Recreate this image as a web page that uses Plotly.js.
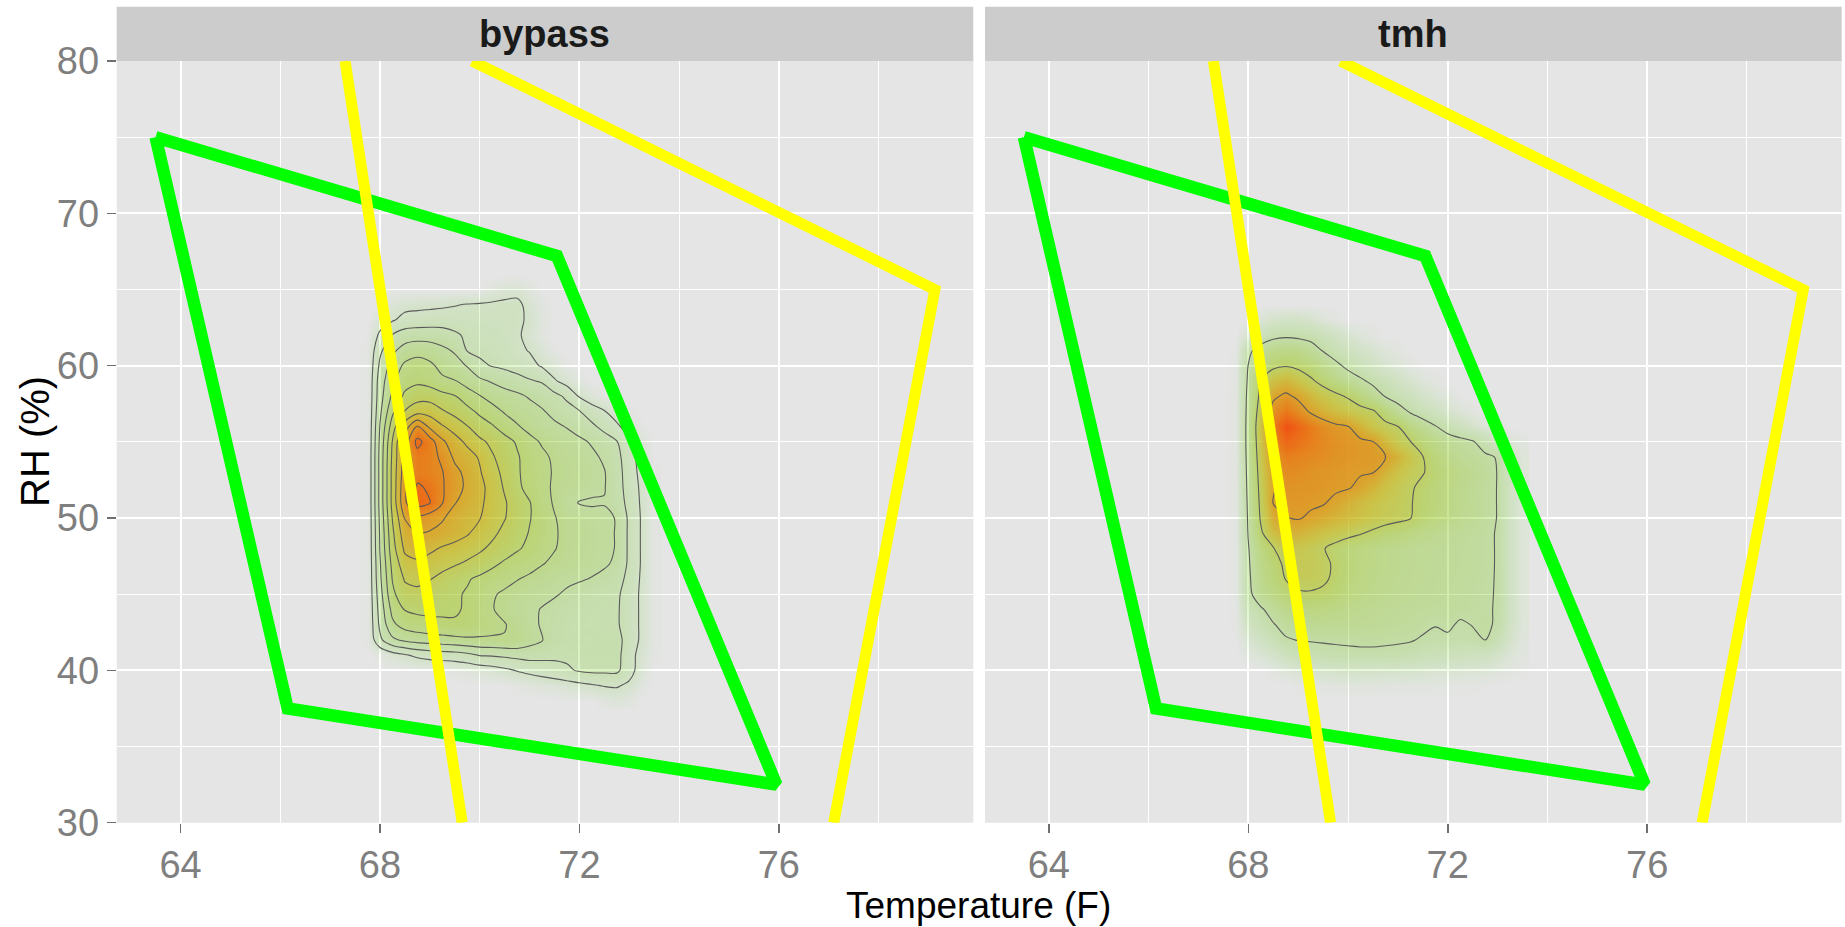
<!DOCTYPE html>
<html>
<head>
<meta charset="utf-8">
<script src="https://cdn.plot.ly/plotly-3.0.1.min.js"></script>
<style>html,body{margin:0;padding:0;background:#fff;}#chart{width:1845px;height:927px;}</style>
</head>
<body>
<div id="chart"></div>
<script>
// ---- data ----
const PANELS = ["bypass", "tmh"];
const X_TICKS = [64, 68, 72, 76];
const Y_TICKS = [30, 40, 50, 60, 70, 80];

// green comfort polygon (Temperature F, RH %)
const GREEN_T  = [63.5, 71.55, 75.95, 66.15, 63.5];
const GREEN_RH = [75.0, 67.2, 32.5, 37.5, 75.0];
// yellow boundary lines
const YELLOW1_T  = [67.3, 69.65];
const YELLOW1_RH = [80, 30];
const YELLOW2_T  = [69.85, 79.13, 77.1];
const YELLOW2_RH = [80, 65.0, 30];

// density grid
const GRID_T  = [67.5, 67.75, 68.0, 68.25, 68.5, 68.75, 69.0, 69.25, 69.5, 69.75, 70.0, 70.25, 70.5, 70.75, 71.0, 71.25, 71.5, 71.75, 72.0, 72.25, 72.5, 72.75, 73.0, 73.25, 73.5];
const GRID_RH = [38, 39, 40, 41, 42, 43, 44, 45, 46, 47, 48, 49, 50, 51, 52, 53, 54, 55, 56, 57, 58, 59, 60, 61, 62, 63, 64, 65, 66];

const DENS_BYPASS = [
[0,0,0,0,0,0,0,0,0,0,0,0,0,0,0,0,0,0,0,0,0.2,0.35,0.2,0,0],
[0,0,0,0,0,0,0,0,0,0,0,0,0,0.1,0.25,0.35,0.45,0.6,0.75,0.9,1.05,1.1,0.8,0.2,0],
[0,0,0,0,0,0,0.05,0.1,0.2,0.3,0.45,0.6,0.8,1.05,1.25,1.45,1.65,1.85,2.1,2.2,2.2,2.2,1.4,0.5,0],
[0,0,0.2,0.6,0.9,1.2,1.4,1.5,1.55,1.75,2.05,2.1,2.2,2.3,2.4,2.3,2.2,2.2,2.3,2.3,2.3,2.3,1.4,0.6,0.1],
[0,0.1,1.8,2.8,3.2,3.4,3.5,3.6,3.7,3.8,3.85,3.9,3.95,3.9,3.4,3.05,2.6,2.45,2.4,2.35,2.3,2.3,1.6,0.8,0.1],
[0,0.1,2.2,3.8,4.4,4.6,4.75,4.85,4.95,4.9,4.55,4.25,4.05,3.7,3.3,2.9,2.6,2.4,2.3,2.25,2.2,2.1,1.6,0.8,0.1],
[0,0.1,2.4,4.3,5.05,5.2,5.2,5.15,5.05,4.95,4.5,4.05,3.75,3.45,3.2,2.95,2.7,2.5,2.4,2.3,2.2,2.1,1.6,0.8,0.1],
[0,0.1,2.6,4.8,5.6,5.7,5.5,5.3,5.15,4.9,4.55,4.1,3.85,3.6,3.4,3.25,3.1,2.85,2.6,2.45,2.3,2.15,1.6,0.8,0.1],
[0,0.1,2.8,5.05,6.1,6.3,6.05,5.7,5.4,5.1,4.8,4.55,4.3,4.05,3.8,3.6,3.4,3.2,3.1,2.95,2.7,2.4,1.7,0.85,0.1],
[0,0.1,2.9,5.3,6.6,6.8,6.6,6.35,6.1,5.85,5.6,5.2,4.85,4.6,4.4,4.05,3.8,3.65,3.45,3.3,3.15,2.8,1.8,0.9,0.1],
[0,0.1,3.05,5.6,7.2,7.5,7.2,6.9,6.7,6.45,6.15,5.8,5.45,5.1,4.8,4.45,4.05,3.7,3.5,3.35,3.2,2.95,1.8,0.9,0.1],
[0,0.1,3.1,5.8,7.6,8.05,7.9,7.7,7.4,7.1,6.6,6.2,5.75,5.35,4.95,4.6,4.1,3.75,3.55,3.35,3.2,2.95,1.8,0.9,0.1],
[0,0.1,3.2,6.05,8.05,8.7,8.5,8.1,7.6,7.25,7.05,6.5,6.05,5.5,5.05,4.6,4.05,3.7,3.5,3.3,3.2,2.95,1.8,0.9,0.1],
[0,0.1,3.3,6.3,8.8,10.4,10.05,9.05,8.05,7.6,7.2,6.6,6.1,5.5,5.05,4.4,3.9,3.3,2.95,2.9,2.95,2.5,1.7,0.85,0.1],
[0,0.1,3.3,6.3,8.8,10.2,9.8,9.1,8.4,7.8,7.3,6.6,5.9,5.2,4.7,4.3,3.85,3.6,3.4,3.2,3.05,2.4,1.6,0.8,0.1],
[0,0.1,3.3,6.3,8.6,9.5,9.4,9.05,8.3,7.7,7.1,6.3,5.8,5.1,4.7,4.3,3.9,3.7,3.5,3.3,3.05,2.4,1.5,0.7,0.1],
[0,0.1,3.3,6.2,8.5,9.6,9.4,8.8,7.8,7.4,6.9,6.1,5.6,5.1,4.6,4.2,3.85,3.6,3.4,3.2,2.85,2.3,1.4,0.6,0],
[0,0.1,3.2,6.05,8.5,10.3,9.5,8.2,7.4,6.8,6.2,5.8,5.35,4.9,4.3,3.9,3.6,3.4,3.2,2.9,2.5,2.05,1.2,0.4,0],
[0,0.1,3.05,5.5,7.5,9.05,7.8,7.1,6.6,6.05,5.5,5.1,4.6,4.1,3.7,3.4,3.2,2.95,2.6,2.2,1.7,1.2,0.5,0.1,0],
[0,0.1,2.8,4.8,6.05,6.6,6.6,6.1,5.7,5.3,4.8,4.4,3.9,3.6,3.4,3.1,2.7,2.4,2.05,1.5,1.05,0.5,0.1,0,0],
[0,0.1,2.6,4.2,5.2,5.6,5.6,5.3,5.05,4.5,4.05,3.6,3.4,3.2,2.9,2.6,2.3,1.8,0.9,0.4,0.1,0,0,0,0],
[0,0.1,2.5,3.8,4.6,4.8,4.6,4.2,4.05,3.6,3.2,2.9,2.6,2.35,2.1,1.9,1.1,0.6,0.2,0,0,0,0,0,0],
[0,0.1,2.2,3.4,4.2,4.5,4.2,3.7,3.35,2.95,2.2,1.95,1.8,1.6,1.3,0.9,0.5,0.1,0,0,0,0,0,0,0],
[0,0.1,1.8,2.8,3.4,3.6,3.5,3.2,2.9,1.95,1.8,1.7,1.5,1.2,0.95,0.5,0.1,0,0,0,0,0,0,0,0],
[0,0.05,1.2,2.05,2.5,2.6,2.6,2.5,2.2,1.8,1.6,1.5,1.4,1.2,0.6,0.2,0,0,0,0,0,0,0,0,0],
[0,0,0.5,0.9,1.3,1.4,1.45,1.5,1.45,1.4,1.35,1.35,1.35,1.25,0.8,0.3,0,0,0,0,0,0,0,0,0],
[0,0,0,0.5,0.7,0.75,0.8,0.85,0.95,1.05,1.1,1.15,1.25,1.3,0.6,0.2,0,0,0,0,0,0,0,0,0],
[0,0,0,0,0,0,0,0,0,0,0,0.3,0.5,0.6,0.3,0,0,0,0,0,0,0,0,0,0],
[0,0,0,0,0,0,0,0,0,0,0,0,0,0,0,0,0,0,0,0,0,0,0,0,0]
];

const DENS_TMH = [
[0,0,0,0,0,0,0,0,0,0,0,0,0,0,0,0,0,0,0,0,0,0,0,0,0],
[0,0,0,0,0,0,0.1,0.15,0.2,0.2,0.25,0.25,0.25,0.2,0.2,0.2,0.2,0.15,0.15,0.1,0.1,0.05,0,0,0],
[0,0,0,0,0.2,0.4,0.6,0.8,0.9,0.95,1.05,1.05,0.95,0.95,0.95,0.9,0.8,0.7,0.65,0.6,0.55,0.5,0.35,0.2,0.1],
[0,0,0.3,0.6,0.95,1.6,2.05,2.3,2.45,2.55,2.6,2.65,2.65,2.6,2.5,2.35,2.1,1.9,1.8,1.7,1.6,1.5,0.95,0.5,0.2],
[0,0.05,0.7,1.3,2.05,2.85,3.05,3.1,3.15,3.2,3.25,3.3,3.3,3.25,3.2,3.1,2.85,2.7,2.75,2.6,2.7,3.05,2.05,0.9,0.3],
[0,0.1,1.3,2.2,2.9,3.5,3.9,4.05,4.05,3.95,3.9,3.85,3.8,3.7,3.6,3.5,3.3,3.05,3.25,2.8,3.05,3.4,2.7,1.2,0.4],
[0,0.1,1.9,2.8,3.6,4.3,4.7,4.8,4.7,4.5,4.3,4.1,3.95,3.85,3.75,3.65,3.55,3.5,3.45,3.4,3.3,3.15,2.9,1.3,0.4],
[0,0.15,2.6,3.9,4.6,5.3,5.8,5.85,5.7,5.3,4.8,4.5,4.3,4.1,3.95,3.85,3.75,3.65,3.55,3.45,3.35,3.2,2.9,1.3,0.4],
[0,0.15,2.7,4.3,5.1,6.05,6.5,6.5,6.25,5.7,5.1,4.7,4.4,4.2,4.05,3.9,3.8,3.7,3.6,3.5,3.4,3.25,2.9,1.3,0.4],
[0,0.15,2.8,4.5,5.4,6.3,6.7,6.6,6.3,5.8,5.2,4.8,4.5,4.3,4.1,3.95,3.85,3.75,3.65,3.55,3.45,3.3,2.9,1.3,0.4],
[0,0.15,2.9,4.9,5.9,6.8,6.9,6.6,6.1,5.5,5.1,4.8,4.5,4.3,4.1,3.95,3.85,3.75,3.65,3.55,3.45,3.3,2.9,1.3,0.4],
[0,0.15,3.1,5.7,7.5,8.1,8.05,7.6,7.2,6.8,6.4,6.1,5.7,5.3,5.05,4.7,4.4,4.1,3.9,3.7,3.5,3.3,2.9,1.3,0.4],
[0,0.15,3.2,6.2,8.5,8.95,9.1,8.8,8.5,8.1,7.7,7.3,6.9,6.6,6.35,6.05,5.4,4.9,4.5,4.1,3.8,3.5,2.95,1.3,0.4],
[0,0.2,3.3,6.4,9.05,9.3,9.3,9.2,9.1,8.7,8.2,7.7,7.2,6.8,6.5,6.1,5.5,5.05,4.6,4.2,3.9,3.5,2.95,1.3,0.4],
[0,0.2,3.4,6.6,8.9,9.5,9.45,9.4,9.3,9.2,9.1,8.7,8.05,7.3,6.7,6.2,5.6,5.05,4.6,4.2,3.9,3.5,2.95,1.3,0.4],
[0,0.2,3.5,6.8,9.1,9.8,9.7,9.5,9.4,9.3,9.2,9.1,9.05,8.05,7.2,6.6,6.1,5.4,4.8,4.4,4.05,3.6,2.95,1.3,0.4],
[0,0.2,3.6,7.05,9.5,10.3,10.1,9.9,9.7,9.5,9.4,9.3,9.2,9.05,8.05,7.05,6.05,5.05,4.3,3.9,3.6,3.3,2.9,1.2,0.4],
[0,0.2,3.7,7.3,10.05,11.2,10.8,10.3,9.9,9.6,9.4,9.25,9.05,7.8,6.7,6.05,5.1,4.4,3.8,3.5,3.15,2.2,1.2,0.5,0.2],
[0,0.2,3.7,7.5,10.5,12.0,11.3,10.4,9.7,9.3,9.05,8.1,7.1,6.5,6.05,4.8,3.9,3.1,2.3,1.6,0.95,0.5,0.2,0,0],
[0,0.2,3.6,7.05,9.6,10.6,9.8,8.8,8.2,7.6,7.1,6.6,6.2,5.05,3.8,2.8,2.1,1.5,0.9,0.5,0.2,0,0,0,0],
[0,0.2,3.5,6.5,8.7,9.3,8.7,7.8,7.05,6.4,5.8,4.9,3.9,2.9,2.2,1.6,0.95,0.6,0.3,0,0,0,0,0,0],
[0,0.15,3.3,6.05,7.4,7.9,7.2,6.3,5.4,4.6,3.9,3.3,2.6,1.9,1.3,0.8,0.4,0.2,0,0,0,0,0,0,0],
[0,0.15,3.05,4.6,5.6,5.9,5.6,5.05,4.2,3.4,2.6,1.9,1.3,0.8,0.5,0.2,0,0,0,0,0,0,0,0,0],
[0,0.1,2.6,3.8,4.4,4.6,4.4,3.8,2.9,2.2,1.6,1.1,0.7,0.4,0.2,0,0,0,0,0,0,0,0,0,0],
[0,0,0.8,1.8,2.5,2.7,2.6,2.4,1.9,1.3,0.8,0.4,0.2,0,0,0,0,0,0,0,0,0,0,0,0],
[0,0,0,0.5,0.95,1.2,1.1,0.8,0.4,0.2,0,0,0,0,0,0,0,0,0,0,0,0,0,0,0],
[0,0,0,0,0,0,0,0,0,0,0,0,0,0,0,0,0,0,0,0,0,0,0,0,0],
[0,0,0,0,0,0,0,0,0,0,0,0,0,0,0,0,0,0,0,0,0,0,0,0,0],
[0,0,0,0,0,0,0,0,0,0,0,0,0,0,0,0,0,0,0,0,0,0,0,0,0]
];

// contour levels per panel
const LEVELS_BYPASS = {start: 1, end: 10, size: 1};
const LEVELS_TMH = {start: 3, end: 9, size: 3};

// ---- styles ----
const FONT = "Liberation Sans, Arial, sans-serif";
const DENS_SCALE = [
  [0.0, "rgba(80,220,0,0)"],
  [0.08, "rgba(100,210,20,0.14)"],
  [0.25, "rgba(120,200,20,0.32)"],
  [0.42, "rgba(150,195,10,0.52)"],
  [0.55, "rgba(190,180,0,0.68)"],
  [0.67, "rgba(215,150,0,0.80)"],
  [0.80, "rgba(232,110,0,0.88)"],
  [0.92, "rgba(240,70,0,0.92)"],
  [1.0, "rgba(248,40,10,0.95)"]
];
const ZMAX = [12, 13];

const dens = [DENS_BYPASS, DENS_TMH];
const levels = [LEVELS_BYPASS, LEVELS_TMH];
const traces = [];
PANELS.forEach((p, i) => {
  const xa = i === 0 ? "x" : "x2";
  const ya = i === 0 ? "y" : "y2";
  traces.push({type: "heatmap", x: GRID_T, y: GRID_RH, z: dens[i], xaxis: xa, yaxis: ya,
    zmin: 0, zmax: ZMAX[i], zsmooth: "best", colorscale: DENS_SCALE, showscale: false, hoverinfo: "skip"});
  traces.push({type: "contour", x: GRID_T, y: GRID_RH, z: dens[i], xaxis: xa, yaxis: ya,
    autocontour: false, contours: Object.assign({coloring: "none"}, levels[i]),
    line: {color: "#5a5a5a", width: 1.1, smoothing: 0.9}, showscale: false, hoverinfo: "skip"});
  traces.push({type: "scatter", mode: "lines", x: GREEN_T, y: GREEN_RH, xaxis: xa, yaxis: ya,
    line: {color: "#00FF00", width: 12.5}, hoverinfo: "skip"});
  traces.push({type: "scatter", mode: "lines", x: YELLOW1_T, y: YELLOW1_RH, xaxis: xa, yaxis: ya,
    line: {color: "#FFFF00", width: 11}, hoverinfo: "skip"});
  traces.push({type: "scatter", mode: "lines", x: YELLOW2_T, y: YELLOW2_RH, xaxis: xa, yaxis: ya,
    line: {color: "#FFFF00", width: 11}, hoverinfo: "skip"});
});

const XR = [62.72, 79.9];
const YR = [30, 80];
const D1 = [0.06325, 0.52753];
const D2 = [0.53388, 0.99821];
const DY = [0.11251, 0.93420];
const tickFont = {family: FONT, size: 38, color: "#7f7f7f"};

function xaxis(domain, anchor) {
  return {domain: domain, anchor: anchor, range: XR, tickmode: "array", tickvals: X_TICKS,
    ticktext: X_TICKS.map(String), ticks: "outside", ticklen: 9, tickwidth: 1.5, tickcolor: "#6f6f6f",
    tickfont: tickFont, showgrid: true, gridcolor: "#ffffff", gridwidth: 2, zeroline: false,
    showline: false, fixedrange: true,
    minor: {tickmode: "array", tickvals: [62, 66, 70, 74, 78], showgrid: true, gridcolor: "#ffffff", gridwidth: 1, ticks: ""}};
}
function yaxis(domain, anchor, labels) {
  return {domain: domain, anchor: anchor, range: YR, tickmode: "array", tickvals: Y_TICKS,
    ticktext: Y_TICKS.map(String), ticks: labels ? "outside" : "", ticklen: 9, tickwidth: 1.5, tickcolor: "#6f6f6f",
    showticklabels: labels, tickfont: tickFont, showgrid: true, gridcolor: "#ffffff", gridwidth: 2,
    zeroline: false, showline: false, fixedrange: true,
    minor: {tickmode: "array", tickvals: [35, 45, 55, 65, 75], showgrid: true, gridcolor: "#ffffff", gridwidth: 1, ticks: ""}};
}

const layout = {
  width: 1845, height: 927, autosize: false,
  margin: {l: 0, r: 0, t: 0, b: 0, pad: 0},
  paper_bgcolor: "#ffffff", plot_bgcolor: "#e5e5e5",
  showlegend: false,
  font: {family: FONT},
  xaxis: xaxis(D1, "y"), yaxis: yaxis(DY, "x", true),
  xaxis2: xaxis(D2, "y2"), yaxis2: yaxis(DY, "x2", false),
  shapes: [
    {type: "rect", xref: "paper", yref: "paper", x0: D1[0], x1: D1[1], y0: 0.9342, y1: 0.99277, fillcolor: "#cccccc", line: {width: 0}, layer: "below"},
    {type: "rect", xref: "paper", yref: "paper", x0: D2[0], x1: D2[1], y0: 0.9342, y1: 0.99277, fillcolor: "#cccccc", line: {width: 0}, layer: "below"}
  ],
  annotations: [
    {text: PANELS[0], xref: "paper", yref: "paper", x: (D1[0] + D1[1]) / 2, y: 0.96365, showarrow: false,
      xanchor: "center", yanchor: "middle", font: {family: FONT, size: 38, color: "#1a1a1a", weight: "bold"}},
    {text: PANELS[1], xref: "paper", yref: "paper", x: (D2[0] + D2[1]) / 2, y: 0.96365, showarrow: false,
      xanchor: "center", yanchor: "middle", font: {family: FONT, size: 38, color: "#1a1a1a", weight: "bold"}},
    {text: "Temperature (F)", xref: "paper", yref: "paper", x: 0.5306, y: 0.0227, showarrow: false,
      xanchor: "center", yanchor: "middle", font: {family: FONT, size: 37, color: "#000000"}},
    {text: "RH (%)", xref: "paper", yref: "paper", x: 0.019, y: 0.5233, showarrow: false, textangle: -90,
      xanchor: "center", yanchor: "middle", font: {family: FONT, size: 40, color: "#000000"}}
  ]
};

Plotly.newPlot("chart", traces, layout, {staticPlot: true, displayModeBar: false});
</script>
</body>
</html>
